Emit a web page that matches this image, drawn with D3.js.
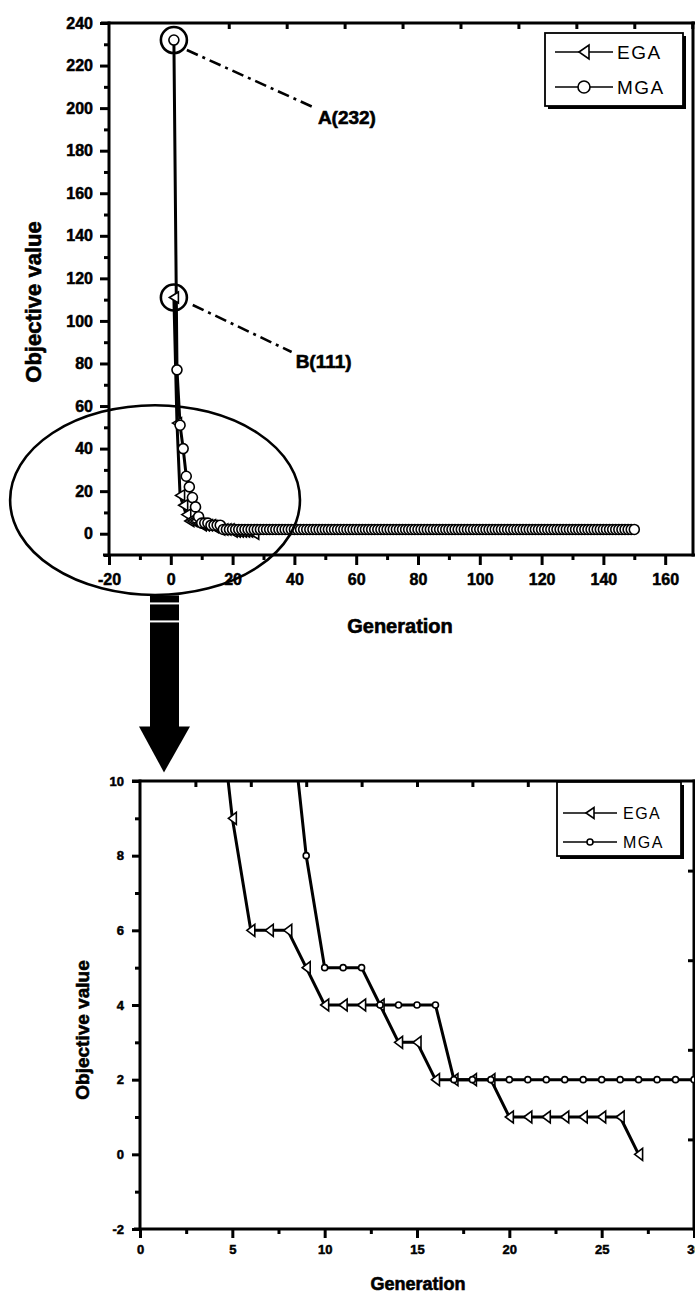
<!DOCTYPE html>
<html>
<head>
<meta charset="utf-8">
<script src="https://cdn.jsdelivr.net/npm/d3@7"></script>
<style>
  html, body { margin: 0; padding: 0; background: #fff; }
  svg { display: block; }
</style>
</head>
<body>
<script>
// Objective value per generation (generation = index + 1)
const seriesNames = ["EGA", "MGA"];
const egaValues = [111, 52, 18, 13.4, 9, 6, 6, 6, 5, 4, 4, 4, 4, 3, 3, 2, 2, 2, 2, 1, 1, 1, 1, 1, 1, 1, 0];
const mgaValues = [232, 77, 51, 40, 27, 22, 17, 12.6, 8, 5, 5, 5, 4, 4, 4, 4,
  2, 2, 2, 2, 2, 2, 2, 2, 2, 2, 2, 2, 2, 2, 2, 2, 2, 2, 2, 2,
  2, 2, 2, 2, 2, 2, 2, 2, 2, 2, 2, 2, 2, 2, 2, 2, 2, 2, 2, 2,
  2, 2, 2, 2, 2, 2, 2, 2, 2, 2, 2, 2, 2, 2, 2, 2, 2, 2, 2, 2,
  2, 2, 2, 2, 2, 2, 2, 2, 2, 2, 2, 2, 2, 2, 2, 2, 2, 2, 2, 2,
  2, 2, 2, 2, 2, 2, 2, 2, 2, 2, 2, 2, 2, 2, 2, 2, 2, 2, 2, 2,
  2, 2, 2, 2, 2, 2, 2, 2, 2, 2, 2, 2, 2, 2, 2, 2, 2, 2, 2, 2,
  2, 2, 2, 2, 2, 2, 2, 2, 2, 2, 2, 2, 2, 2];

// Axis ticks: full run (overview) and first 30 generations (detail)
const overviewXTicks = [-20, 0, 20, 40, 60, 80, 100, 120, 140, 160];
const overviewXMinor = [-10, 10, 30, 50, 70, 90, 110, 130, 150];
const overviewYTicks = [0, 20, 40, 60, 80, 100, 120, 140, 160, 180, 200, 220, 240];
const overviewYMinor = [-10, 10, 30, 50, 70, 90, 110, 130, 150, 170, 190, 210, 230];
const overviewTopTicks = [18.75, 37.5, 56.25, 75, 93.75, 112.5, 131.25, 150, 168.75];

const detailXTicks = [0, 5, 10, 15, 20, 25, 30];
const detailXMinor = [2.5, 7.5, 12.5, 17.5, 22.5, 27.5];
const detailYTicks = [-2, 0, 2, 4, 6, 8, 10];
const detailYMinor = [-1, 1, 3, 5, 7, 9];
const detailTopTicks = [3, 6, 9, 12, 15, 18, 21, 24, 27];
const detailRightTicks = [0.4, 2.8, 5.2, 7.6];

// Call-outs on the starting values
const callouts = [
  { label: "A(232)", gen: 1, value: 232, from: [5.2, 227.3], to: [46.0, 200.5], text: [47.6, 195.4] },
  { label: "B(111)", gen: 1, value: 111, from: [7.1, 107.5], to: [39.1, 85.4], text: [40.4, 80.7] }
];
// Ellipse marking the region enlarged in the detail panel (data units of the overview)
const zoomRing = { cx: -5.1, cy: 15.8, rx: 46.9, ry: 44.6 };

const FONT = "'Liberation Sans', Arial, Helvetica, sans-serif";
const W = 695, H = 1297;

const svg = d3.select("body").append("svg").attr("width", W).attr("height", H);
const defs = svg.append("defs");

const egaPoints = egaValues.map((v, i) => ({ gen: i + 1, value: v }));
const mgaPoints = mgaValues.map((v, i) => ({ gen: i + 1, value: v }));

function triPath(w, h) {
  return `M${-w / 2},0L${w / 2},${-h / 2}L${w / 2},${h / 2}Z`;
}

function drawPanel(p) {
  const x = d3.scaleLinear().domain(p.xDomain).range([p.left, p.right]);
  const y = d3.scaleLinear().domain(p.yDomain).range([p.bottom, p.top]);
  const g = svg.append("g");

  const clipId = p.id + "-clip";
  defs.append("clipPath").attr("id", clipId).append("rect")
    .attr("x", p.left).attr("y", p.top)
    .attr("width", p.right - p.left).attr("height", p.bottom - p.top);

  function styleAxis(sel) {
    sel.select(".domain").remove();
    sel.selectAll(".tick line").attr("stroke", "#000").attr("stroke-width", 3);
    sel.selectAll(".tick text")
      .attr("font-family", FONT).attr("font-weight", "bold")
      .attr("font-size", p.tickFont).attr("fill", "#000")
      .attr("stroke", "#000").attr("stroke-width", 0.5);
  }

  // bottom axis: minor then major
  g.append("g").attr("transform", `translate(0,${p.bottom})`)
    .call(d3.axisBottom(x).tickValues(p.xMinor).tickSize(p.minorLen).tickFormat(""))
    .call(styleAxis);
  g.append("g").attr("transform", `translate(0,${p.bottom})`)
    .call(d3.axisBottom(x).tickValues(p.xTicks).tickSize(p.majorLen)
      .tickPadding(p.xPad).tickFormat(d => String(d)))
    .call(styleAxis);

  // left axis
  g.append("g").attr("transform", `translate(${p.left},0)`)
    .call(d3.axisLeft(y).tickValues(p.yMinor).tickSize(p.minorLen).tickFormat(""))
    .call(styleAxis);
  g.append("g").attr("transform", `translate(${p.left},0)`)
    .call(d3.axisLeft(y).tickValues(p.yTicks).tickSize(p.majorLen - 1)
      .tickPadding(p.yPad).tickFormat(d => String(d)))
    .call(styleAxis);

  // inward ticks on the top and right edges
  g.append("g").attr("transform", `translate(0,${p.top})`)
    .call(d3.axisTop(x).tickValues(p.topTicks).tickSize(-6).tickFormat(""))
    .call(styleAxis);
  if (p.rightTicks) {
    g.append("g").attr("transform", `translate(${p.right},0)`)
      .call(d3.axisRight(y).tickValues(p.rightTicks).tickSize(-6).tickFormat(""))
      .call(styleAxis);
  }

  // frame
  const frame = g.append("g").attr("stroke", "#000").attr("stroke-width", 3).attr("fill", "none");
  frame.append("line").attr("x1", p.left - 6).attr("x2", p.right + 2).attr("y1", p.bottom).attr("y2", p.bottom);
  frame.append("line").attr("x1", p.left - 8).attr("x2", p.right + 2).attr("y1", p.top).attr("y2", p.top);
  frame.append("line").attr("x1", p.left).attr("x2", p.left).attr("y1", p.top - 1.5).attr("y2", p.bottom + 1.5);
  frame.append("line").attr("x1", p.right).attr("x2", p.right).attr("y1", p.top - 1.5).attr("y2", p.bottom + 1.5);

  // axis titles
  g.append("text")
    .attr("x", p.xTitle[0]).attr("y", p.xTitle[1])
    .attr("text-anchor", "middle")
    .attr("font-family", FONT).attr("font-weight", "bold").attr("font-size", p.xTitleFont)
    .attr("stroke", "#000").attr("stroke-width", 0.6)
    .text("Generation");
  g.append("text")
    .attr("transform", `translate(${p.yTitle[0]},${p.yTitle[1]}) rotate(-90)`)
    .attr("text-anchor", "middle").attr("dominant-baseline", "central")
    .attr("font-family", FONT).attr("font-weight", "bold").attr("font-size", p.yTitleFont)
    .attr("stroke", "#000").attr("stroke-width", 0.6)
    .text("Objective value");

  // series
  const line = d3.line().x(d => x(d.gen)).y(d => y(d.value));
  const plot = g.append("g").attr("clip-path", `url(#${clipId})`);

  plot.append("path").datum(egaPoints)
    .attr("d", line).attr("fill", "none").attr("stroke", "#000")
    .attr("stroke-width", p.lineWidth).attr("stroke-linejoin", "round");
  plot.append("path").datum(mgaPoints)
    .attr("d", line).attr("fill", "none").attr("stroke", "#000")
    .attr("stroke-width", p.lineWidth).attr("stroke-linejoin", "round");

  plot.selectAll(".ega").data(egaPoints).join("path")
    .attr("class", "ega")
    .attr("transform", d => `translate(${x(d.gen)},${y(d.value)})`)
    .attr("d", triPath(p.triW, p.triH))
    .attr("fill", "#fff").attr("stroke", "#000").attr("stroke-width", p.markStroke);
  plot.selectAll(".mga").data(mgaPoints).join("circle")
    .attr("class", "mga")
    .attr("cx", d => x(d.gen)).attr("cy", d => y(d.value)).attr("r", p.circR)
    .attr("fill", "#fff").attr("stroke", "#000").attr("stroke-width", p.markStroke);

  // legend
  const lg = g.append("g");
  const L = p.legend;
  lg.append("rect").attr("x", L.x + 3).attr("y", L.y + 3).attr("width", L.w).attr("height", L.h).attr("fill", "#000");
  lg.append("rect").attr("x", L.x).attr("y", L.y).attr("width", L.w).attr("height", L.h)
    .attr("fill", "#fff").attr("stroke", "#000").attr("stroke-width", 1.8);
  seriesNames.forEach((name, i) => {
    const ry = L.y + L.row0 + i * L.rowGap;
    lg.append("line").attr("x1", L.x + L.lineX0).attr("x2", L.x + L.lineX1)
      .attr("y1", ry).attr("y2", ry).attr("stroke", "#000").attr("stroke-width", 1.6);
    const mx = (L.x + L.lineX0 + L.x + L.lineX1) / 2;
    if (name === "EGA") {
      lg.append("path").attr("transform", `translate(${mx},${ry})`)
        .attr("d", triPath(L.triW, L.triH))
        .attr("fill", "#fff").attr("stroke", "#000").attr("stroke-width", 1.6);
    } else {
      lg.append("circle").attr("cx", mx).attr("cy", ry).attr("r", L.circR)
        .attr("fill", "#fff").attr("stroke", "#000").attr("stroke-width", 1.6);
    }
    lg.append("text").attr("x", L.x + L.textX).attr("y", ry)
      .attr("dominant-baseline", "central")
      .attr("font-family", FONT).attr("font-size", L.font)
      .attr("letter-spacing", L.spacing)
      .text(name);
  });

  return { x, y, g };
}

// ---- overview panel: all 150 generations ----
const overview = drawPanel({
  id: "overview",
  xDomain: [-20, 169], yDomain: [-10, 240],
  left: 109, right: 693, top: 23, bottom: 555,
  xTicks: overviewXTicks, xMinor: overviewXMinor,
  yTicks: overviewYTicks, yMinor: overviewYMinor,
  topTicks: overviewTopTicks,
  majorLen: 10, minorLen: 5, xPad: 9, yPad: 7,
  tickFont: 16,
  xTitle: [400, 633], xTitleFont: 20,
  yTitle: [33, 302], yTitleFont: 22,
  lineWidth: 3, triW: 9, triH: 11, circR: 5, markStroke: 1.6,
  legend: { x: 545, y: 33, w: 138, h: 73, row0: 19, rowGap: 35,
            lineX0: 10, lineX1: 68, textX: 72, triW: 10, triH: 14, circR: 6,
            font: 19, spacing: 1.5 }
});

// call-outs on the starting points
callouts.forEach(c => {
  overview.g.append("circle")
    .attr("cx", overview.x(c.gen)).attr("cy", overview.y(c.value)).attr("r", 13)
    .attr("fill", "none").attr("stroke", "#000").attr("stroke-width", 2.6);
  overview.g.append("line")
    .attr("x1", overview.x(c.from[0])).attr("y1", overview.y(c.from[1]))
    .attr("x2", overview.x(c.to[0])).attr("y2", overview.y(c.to[1]))
    .attr("stroke", "#000").attr("stroke-width", 2.6)
    .attr("stroke-dasharray", "12,5,3,5");
  overview.g.append("text")
    .attr("x", overview.x(c.text[0])).attr("y", overview.y(c.text[1]))
    .attr("dominant-baseline", "central")
    .attr("font-family", FONT).attr("font-weight", "bold").attr("font-size", 19)
    .attr("stroke", "#000").attr("stroke-width", 0.6)
    .text(c.label);
});

// ring around the early generations
overview.g.append("ellipse")
  .attr("cx", overview.x(zoomRing.cx)).attr("cy", overview.y(zoomRing.cy))
  .attr("rx", overview.x(zoomRing.cx + zoomRing.rx) - overview.x(zoomRing.cx))
  .attr("ry", overview.y(zoomRing.cy) - overview.y(zoomRing.cy + zoomRing.ry))
  .attr("fill", "none").attr("stroke", "#000").attr("stroke-width", 2.6);

// ---- detail panel: generations 0-30 ----
const detail = drawPanel({
  id: "detail",
  xDomain: [0, 30], yDomain: [-2, 10],
  left: 140, right: 694, top: 781, bottom: 1229,
  xTicks: detailXTicks, xMinor: detailXMinor,
  yTicks: detailYTicks, yMinor: detailYMinor,
  topTicks: detailTopTicks, rightTicks: detailRightTicks,
  majorLen: 9, minorLen: 5, xPad: 7, yPad: 8,
  tickFont: 13,
  xTitle: [418, 1290], xTitleFont: 18,
  yTitle: [82, 1030], yTitleFont: 19,
  lineWidth: 3, triW: 8, triH: 12, circR: 3, markStroke: 1.6,
  legend: { x: 557, y: 782, w: 124, h: 74, row0: 31, rowGap: 29,
            lineX0: 6, lineX1: 60, textX: 66, triW: 8, triH: 11, circR: 3,
            font: 16, spacing: 1.5 }
});

// arrow pointing from the ring down to the detail panel
const ax = overview.x(-2.2);
const aTop = overview.y(-29);
const arrow = svg.append("g").attr("fill", "#000");
arrow.append("rect").attr("x", ax - 14).attr("y", aTop).attr("width", 29).attr("height", 7);
arrow.append("rect").attr("x", ax - 14).attr("y", aTop + 9).attr("width", 29).attr("height", 16);
arrow.append("rect").attr("x", ax - 14).attr("y", aTop + 27).attr("width", 29).attr("height", 106);
arrow.append("path")
  .attr("d", `M${ax - 25},${aTop + 131}L${ax + 26},${aTop + 131}L${ax},${aTop + 177}Z`);
</script>
</body>
</html>
